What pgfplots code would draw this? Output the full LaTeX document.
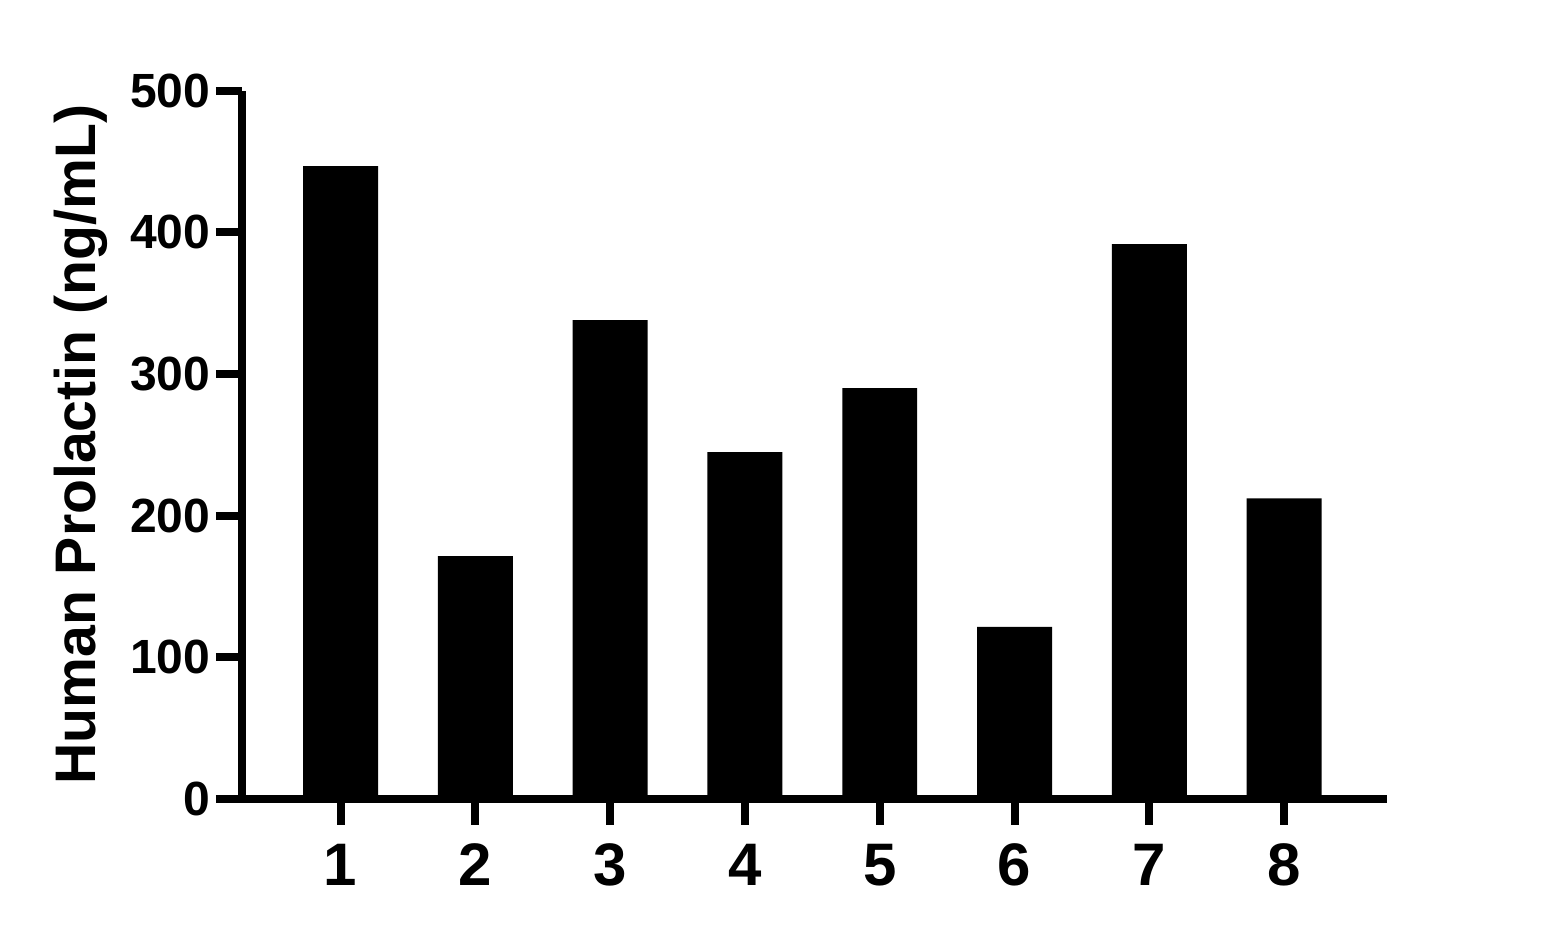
\documentclass[border=0pt]{standalone}
\usepackage{pgfplots}
\pgfplotsset{compat=1.18}
\usepackage{fontspec}
\setmainfont{Liberation Sans}
\begin{document}
\begin{tikzpicture}
% page = 1565x939 px at 0.25pt per px; axis south west at (0,0)
\useasboundingbox (-60.5pt,-35pt) rectangle (330.75pt,199.75pt);
\begin{axis}[
  at={(0,0)}, anchor=south west,
  scale only axis,
  width=286.25pt, height=177.1pt,
  xmin=0.269, xmax=8.763,
  ymin=0, ymax=500,
  axis x line*=bottom, axis y line*=left,
  axis line style={line width=2pt, -},
  tick style={line width=2pt, black},
  tick align=outside,
  major tick length=6.5pt,
  xtick={1,2,3,4,5,6,7,8},
  xticklabels={1,2,3,4,5,6,7,8},
  ytick={0,100,200,300,400,500},
  yticklabels={0,100,200,300,400,500},
  xticklabel style={font=\fontsize{15}{15}\selectfont\bfseries, inner sep=0pt, anchor=north, yshift=-4.5pt},
  yticklabel style={font=\fontsize{12}{12}\selectfont\bfseries, inner sep=0pt, anchor=east, xshift=-1.25pt},
  ylabel={Human Prolactin (ng/mL)},
  ylabel style={font=\fontsize{14.3}{14.3}\selectfont\bfseries, inner sep=0pt,
    at={(axis description cs:0,0.5)}, anchor=south, yshift=33.5pt},
  clip=false,
]
\addplot[ybar, bar width=0.556, fill=black, draw=none, bar shift=0pt] coordinates {
(1,446.7) (2,171.5) (3,338) (4,244.9) (5,290) (6,121.4) (7,391.7) (8,212.2)
};
\end{axis}
\end{tikzpicture}
\end{document}
